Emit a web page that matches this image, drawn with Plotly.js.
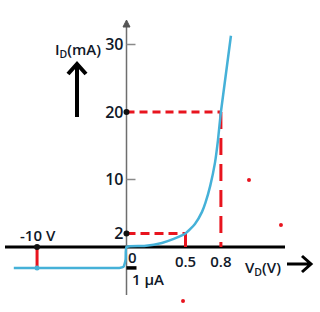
<!DOCTYPE html>
<html>
<head>
<meta charset="utf-8">
<script src="https://cdn.plot.ly/plotly-3.0.1.min.js"></script>
<style>html,body{margin:0;padding:0;background:#fff;}#chart{width:320px;height:312px;}</style>
</head>
<body>
<div id="chart"></div>
<script>
// ---- data (diode I-V characteristic, schematic) ----
const fwdV = [0, 0.15, 0.3, 0.4, 0.5, 0.58, 0.64, 0.67, 0.71, 0.75, 0.775, 0.8, 0.885]; // volts
const fwdI = [0, 0.15, 0.6, 1.2, 2, 3.4, 5.2, 6.6, 9.1, 12.5, 15.8, 20, 31.3];          // mA
const revV = [-12.6, -10, -2, -0.8, -0.35, -0.1, 0];                                    // volts
const revI = [-1, -1, -1, -1, -0.95, -0.6, 0];                                          // µA
const opV = [0.5, 0.8];      // marked operating voltages
const opI = [2, 20];         // corresponding currents (mA)
const breakV = -10;          // marked reverse voltage
const leakI = -1;            // leakage current (µA)
const yTicks = [2, 10, 20, 30];
const yTickText = ['2', '10', '20', '30'];
const xTicks = [0.5, 0.8];
const xTickText = ['0.5', '0.8'];
const specksV = [1.038, 1.309, 0.479];
const specksI = [9.93, 3.26, -8.0];

// ---- broken-axis scales (reverse side drawn compressed) ----
const NEG_V_SCALE = 0.0758;  // plot units per volt for negative voltages
const UA_SCALE = 3.1;        // plot units per µA for reverse current
const xPos = v => v >= 0 ? v : v * NEG_V_SCALE;
const yRev = ua => ua * UA_SCALE;

const W = 320, H = 312, X0PX = 126.5, Y0PX = 247, PXV = 118, PXMA = 6.75;
const px = x => x / W, py = y => 1 - y / H;

const RED = '#e8141e', CYAN = '#45b1d8', TXT = '#101828';
const FONT = 'Open Sans';

const curveX = revV.map(xPos).concat(fwdV.slice(1));
const curveY = revI.map(yRev).concat(fwdI.slice(1));

const traces = [
  {x: [0, opV[1]], y: [opI[1], opI[1]], mode: 'lines', line: {color: RED, width: 3, dash: '8px,5px'}},
  {x: [opV[1], opV[1]], y: [opI[1], 0], mode: 'lines', line: {color: RED, width: 3, dash: '17px,9px'}},
  {x: [0, opV[0]], y: [opI[0], opI[0]], mode: 'lines', line: {color: RED, width: 3, dash: '9px,5px'}},
  {x: [opV[0], opV[0]], y: [opI[0], 0], mode: 'lines', line: {color: RED, width: 3}},
  {x: [xPos(breakV), xPos(breakV)], y: [0, yRev(leakI)], mode: 'lines', line: {color: RED, width: 3}},
  {x: curveX, y: curveY, mode: 'lines', line: {color: CYAN, width: 2.5, shape: 'spline', smoothing: 0.5}},
  {x: [0, 0, xPos(breakV)], y: [opI[1], opI[0], 0], mode: 'markers', marker: {color: '#111', size: 6}},
  {x: [xPos(breakV)], y: [yRev(leakI)], mode: 'markers', marker: {color: CYAN, size: 5}},
  {x: specksV, y: specksI, mode: 'markers', marker: {color: RED, size: 4}}
];

const shapes = [
  // horizontal axis
  {type: 'line', layer: 'below', xref: 'paper', yref: 'y', x0: px(5), x1: px(285), y0: 0, y1: 0, line: {color: '#000', width: 3}},
  // vertical axis
  {type: 'line', layer: 'below', xref: 'x', yref: 'paper', x0: 0, x1: 0, y0: py(295), y1: py(24), line: {color: '#6e6e6e', width: 1.5}},
  {type: 'path', layer: 'below', xref: 'paper', yref: 'paper',
   path: `M ${px(123)} ${py(27)} L ${px(126.5)} ${py(20)} L ${px(130)} ${py(27)} Z`, fillcolor: '#555', line: {color: '#555', width: 1}},
  // small tick marks at 10 and 30
  {type: 'line', xref: 'x', yref: 'y', x0: 0, x1: 9 / PXV, y0: 10, y1: 10, line: {color: '#8a8a8a', width: 1.5}},
  {type: 'line', xref: 'x', yref: 'y', x0: 0, x1: 9 / PXV, y0: 30, y1: 30, line: {color: '#8a8a8a', width: 1.5}},
  // 1 µA bar
  {type: 'line', xref: 'x', yref: 'y', x0: 0, x1: 10 / PXV, y0: yRev(leakI), y1: yRev(leakI), line: {color: '#000', width: 3.5}},
  // I_D arrow
  {type: 'path', xref: 'paper', yref: 'paper',
   path: `M ${px(77)} ${py(117)} L ${px(77)} ${py(65)} M ${px(68)} ${py(74)} L ${px(77)} ${py(64)} L ${px(86)} ${py(74)}`,
   line: {color: '#000', width: 4}},
  // V_D arrow
  {type: 'path', xref: 'paper', yref: 'paper',
   path: `M ${px(287)} ${py(264)} L ${px(310)} ${py(264)} M ${px(302)} ${py(256)} L ${px(311)} ${py(264)} L ${px(302)} ${py(272)}`,
   line: {color: '#000', width: 3}}
];

const ann = (x, y, text, size, extra) => Object.assign({
  xref: 'paper', yref: 'paper', x: px(x), y: py(y), text: text, showarrow: false,
  xanchor: 'center', yanchor: 'middle', font: {family: FONT, size: size, color: TXT, weight: 600}
}, extra || {});

const annotations = [
  ann(78, 50, 'I<sub>D</sub>(mA)', 15),
  ann(38, 235, '-10 V', 15),
  ann(132, 257, '0', 15),
  ann(148, 279, '1 µA', 15),
  ann(263, 268, 'V<sub>D</sub>(V)', 15)
];

const layout = {
  width: W, height: H, margin: {l: 0, r: 0, t: 0, b: 0, pad: 0},
  paper_bgcolor: '#fff', plot_bgcolor: '#fff', showlegend: false,
  xaxis: {range: [-X0PX / PXV, (W - X0PX) / PXV], anchor: 'free', position: py(Y0PX),
          tickvals: xTicks, ticktext: xTickText, ticks: '', showgrid: false, zeroline: false, showline: false,
          ticklabelstandoff: 4, tickfont: {family: FONT, size: 15, color: TXT, weight: 600}, fixedrange: true},
  yaxis: {range: [-(H - Y0PX) / PXMA, Y0PX / PXMA], anchor: 'free', position: px(X0PX),
          tickvals: yTicks, ticktext: yTickText, ticks: '', showgrid: false, zeroline: false, showline: false,
          ticklabelstandoff: 3, tickfont: {family: FONT, size: 16, color: TXT, weight: 600}, fixedrange: true},
  shapes: shapes,
  annotations: annotations
};

Plotly.newPlot('chart', traces, layout, {displayModeBar: false, staticPlot: true});
</script>
</body>
</html>
